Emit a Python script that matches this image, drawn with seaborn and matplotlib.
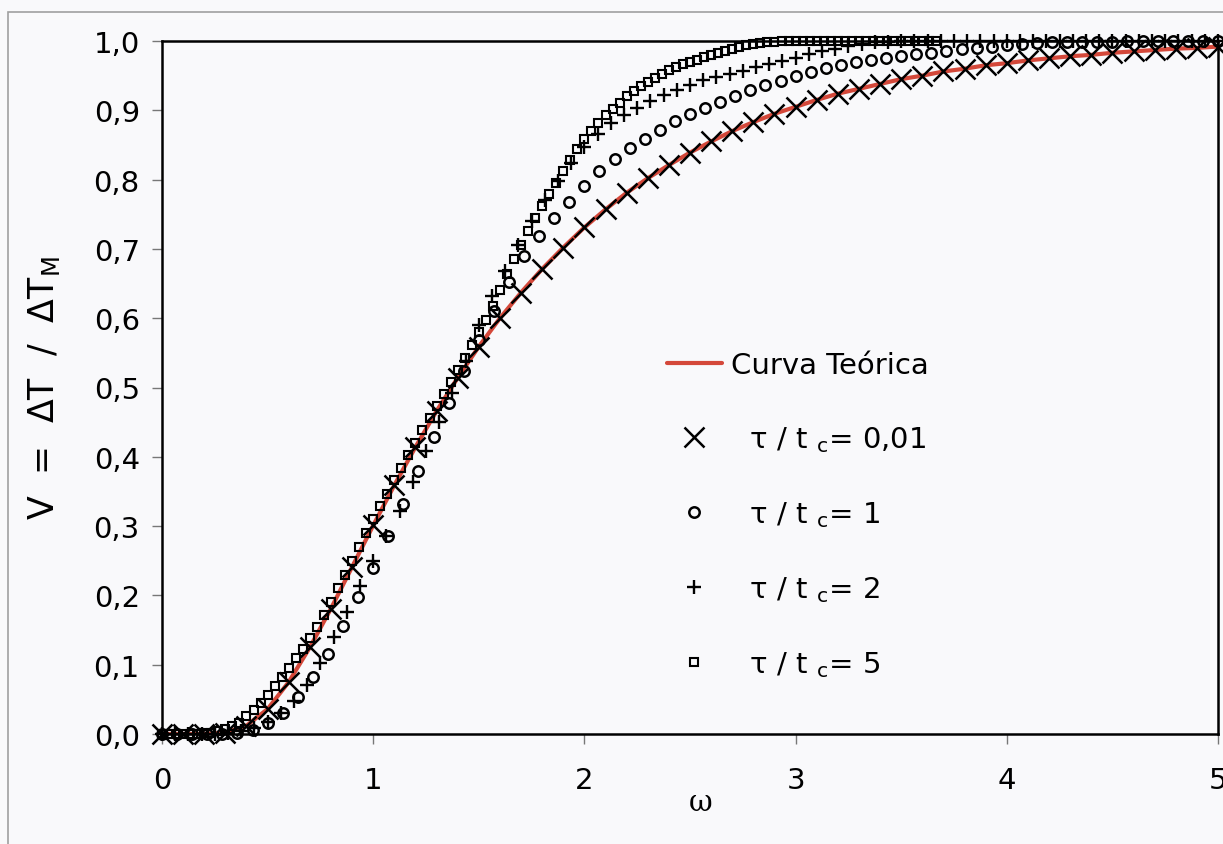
import numpy as np
import matplotlib
matplotlib.use("Agg")
import matplotlib.pyplot as plt
import seaborn as sns
from matplotlib.patches import Rectangle

# V = dT/dTM, para cada série (omega com passo constante a partir de 0)
passo_teorica = 0.1
v_teorica = [0, 0, 0, 0.002, 0.012, 0.036, 0.075, 0.125, 0.181, 0.241,
             0.301, 0.359, 0.414, 0.466, 0.514, 0.559, 0.600, 0.637, 0.671, 0.702,
             0.731, 0.757, 0.781, 0.802, 0.821, 0.839, 0.855, 0.870, 0.883, 0.895,
             0.905, 0.915, 0.924, 0.931, 0.938, 0.945, 0.950, 0.956, 0.960, 0.965,
             0.968, 0.972, 0.975, 0.978, 0.980, 0.983, 0.985, 0.987, 0.989, 0.990,
             0.992]
v_tau001 = [0, 0, 0, 0.002, 0.012, 0.036, 0.075, 0.125, 0.181, 0.241,
            0.301, 0.359, 0.414, 0.466, 0.514, 0.559, 0.600, 0.637, 0.671, 0.702,
            0.731, 0.757, 0.781, 0.802, 0.821, 0.839, 0.855, 0.870, 0.883, 0.895,
            0.905, 0.915, 0.924, 0.931, 0.938, 0.945, 0.950, 0.956, 0.960, 0.965,
            0.968, 0.972, 0.975, 0.978, 0.980, 0.983, 0.985, 0.987, 0.989, 0.990,
            0.992]

passo_tau1 = 5 / 70
v_tau1 = [0, 0, 0, 0, 0, 0.002, 0.006, 0.016, 0.030, 0.054,
          0.082, 0.116, 0.156, 0.197, 0.240, 0.285, 0.332, 0.380, 0.428, 0.478,
          0.524, 0.568, 0.610, 0.652, 0.690, 0.719, 0.745, 0.768, 0.791, 0.812,
          0.830, 0.845, 0.859, 0.872, 0.885, 0.895, 0.904, 0.912, 0.921, 0.929,
          0.936, 0.943, 0.949, 0.955, 0.961, 0.965, 0.969, 0.972, 0.975, 0.979,
          0.981, 0.983, 0.986, 0.988, 0.990, 0.992, 0.994, 0.996, 0.997, 0.998,
          0.998, 0.999, 0.999, 0.999, 1.0, 1.0, 1.0, 1.0, 1.0, 1.0,
          1.0]

passo_tau2 = 0.0625
v_tau2 = [0, 0, 0, 0, 0, 0.001, 0.004, 0.009, 0.018, 0.030,
          0.048, 0.070, 0.103, 0.140, 0.176, 0.213, 0.249, 0.285, 0.322, 0.364,
          0.408, 0.450, 0.492, 0.538, 0.590, 0.632, 0.668, 0.706, 0.740, 0.770,
          0.798, 0.824, 0.847, 0.866, 0.881, 0.893, 0.903, 0.913, 0.922, 0.930,
          0.937, 0.944, 0.948, 0.953, 0.957, 0.962, 0.967, 0.971, 0.976, 0.981,
          0.985, 0.989, 0.993, 0.996, 0.998, 0.999, 1.0, 1.0, 1.0, 1.0,
          1.0, 1.0, 1.0, 1.0, 1.0, 1.0, 1.0, 1.0, 1.0, 1.0,
          1.0, 1.0, 1.0, 1.0, 1.0, 1.0, 1.0, 1.0, 1.0, 1.0,
          1.0]

passo_tau5 = 1 / 30
v_tau5 = [0, 0, 0, 0, 0, 0, 0.001, 0.002, 0.004, 0.007,
          0.011, 0.016, 0.026, 0.035, 0.045, 0.056, 0.069, 0.082, 0.095, 0.109,
          0.123, 0.138, 0.154, 0.171, 0.190, 0.210, 0.230, 0.250, 0.270, 0.290,
          0.310, 0.329, 0.347, 0.366, 0.384, 0.402, 0.420, 0.438, 0.456, 0.474,
          0.491, 0.508, 0.525, 0.543, 0.561, 0.580, 0.598, 0.617, 0.640, 0.664,
          0.686, 0.706, 0.726, 0.745, 0.762, 0.779, 0.795, 0.812, 0.828, 0.844,
          0.859, 0.870, 0.882, 0.893, 0.902, 0.911, 0.920, 0.928, 0.935, 0.941,
          0.947, 0.953, 0.958, 0.963, 0.967, 0.970, 0.973, 0.977, 0.980, 0.983,
          0.986, 0.989, 0.992, 0.994, 0.996, 0.997, 0.998, 0.999, 1.0, 1.0,
          1.0, 1.0, 1.0, 1.0, 1.0, 1.0, 1.0, 1.0, 1.0, 1.0,
          1.0, 1.0, 1.0, 1.0, 1.0, 1.0, 1.0, 1.0, 1.0, 1.0,
          1.0]

ticks_x = [0, 1, 2, 3, 4, 5]
rotulos_x = ['0', '1', '2', '3', '4', '5']
ticks_y = [0.0, 0.1, 0.2, 0.3, 0.4, 0.5, 0.6, 0.7, 0.8, 0.9, 1.0]
rotulos_y = ['0,0', '0,1', '0,2', '0,3', '0,4', '0,5', '0,6', '0,7', '0,8', '0,9', '1,0']

legendas = ['Curva Teórica',
            r'  τ / t $_{\rm c}$= 0,01',
            r'  τ / t $_{\rm c}$= 1',
            r'  τ / t $_{\rm c}$= 2',
            r'  τ / t $_{\rm c}$= 5']


def eixo_omega(valores, passo):
    return np.arange(len(valores)) * passo


sns.set_theme(style='white')
plt.rcParams['font.family'] = ['DejaVu Sans']
plt.rcParams['mathtext.fontset'] = 'dejavusans'
plt.rcParams['text.color'] = 'black'

fundo = '#f9f9fb'
fig = plt.figure(figsize=(12.23, 8.45), dpi=100, facecolor=fundo)
ax = fig.add_axes([162 / 1223, 1 - 735 / 845, 1056 / 1223, 693 / 845])
ax.set_facecolor(fundo)

# moldura cinza da página
fig.patches.append(Rectangle((8 / 1223, -0.05), 1.2, 1 - 13 / 845 + 0.05,
                             transform=fig.transFigure, fill=False,
                             edgecolor='#a0a0a0', lw=1.2))

sns.lineplot(x=eixo_omega(v_teorica, passo_teorica), y=v_teorica, ax=ax,
             color='#d4483a', lw=3, label=legendas[0], errorbar=None, zorder=2)

estilo = dict(color='black', markeredgecolor='black', linestyle='', errorbar=None,
              clip_on=False, zorder=3)
sns.lineplot(x=eixo_omega(v_tau001, passo_teorica), y=v_tau001, ax=ax,
             marker='x', markersize=14, markeredgewidth=1.8, label=legendas[1], **estilo)
sns.lineplot(x=eixo_omega(v_tau1, passo_tau1), y=v_tau1, ax=ax,
             marker='o', markersize=7.5, markeredgewidth=1.8, markerfacecolor='none',
             label=legendas[2], **estilo)
sns.lineplot(x=eixo_omega(v_tau2, passo_tau2), y=v_tau2, ax=ax,
             marker='+', markersize=9.5, markeredgewidth=1.7, label=legendas[3], **estilo)
sns.lineplot(x=eixo_omega(v_tau5, passo_tau5), y=v_tau5, ax=ax,
             marker='s', markersize=5.5, markeredgewidth=1.5, markerfacecolor='none',
             label=legendas[4], **estilo)

ax.set_xlim(0, 5)
ax.set_ylim(0, 1)
ax.set_xticks(ticks_x)
ax.set_xticklabels(rotulos_x)
ax.set_yticks(ticks_y)
ax.set_yticklabels(rotulos_y)
ax.tick_params(axis='both', direction='out', length=7, width=1.0, color='#777777',
               labelsize=21, labelcolor='black')
ax.tick_params(axis='x', pad=16, bottom=True)
ax.tick_params(axis='y', pad=9, left=True)
for sp in ax.spines.values():
    sp.set_color('black')
    sp.set_linewidth(1.8)
    sp.set_visible(True)

ax.set_ylabel(r'V  =  ΔT  /  ΔT$_{\rm M}$', fontsize=25, color='black')
ax.yaxis.set_label_coords(-0.095, 0.5)
ax.set_xlabel('ω', fontsize=21, family=['DejaVu Serif'], color='black')
ax.xaxis.set_label_coords(0.51, -0.078)

leg = ax.legend(loc='upper left', bbox_to_anchor=(0.478, 0.553), frameon=False,
                fontsize=21, handlelength=1.9, handletextpad=0.3, labelspacing=1.55,
                borderpad=0, borderaxespad=0)
for t in leg.get_texts():
    t.set_color('black')

fig.savefig('out.png', dpi=100, facecolor=fundo)
